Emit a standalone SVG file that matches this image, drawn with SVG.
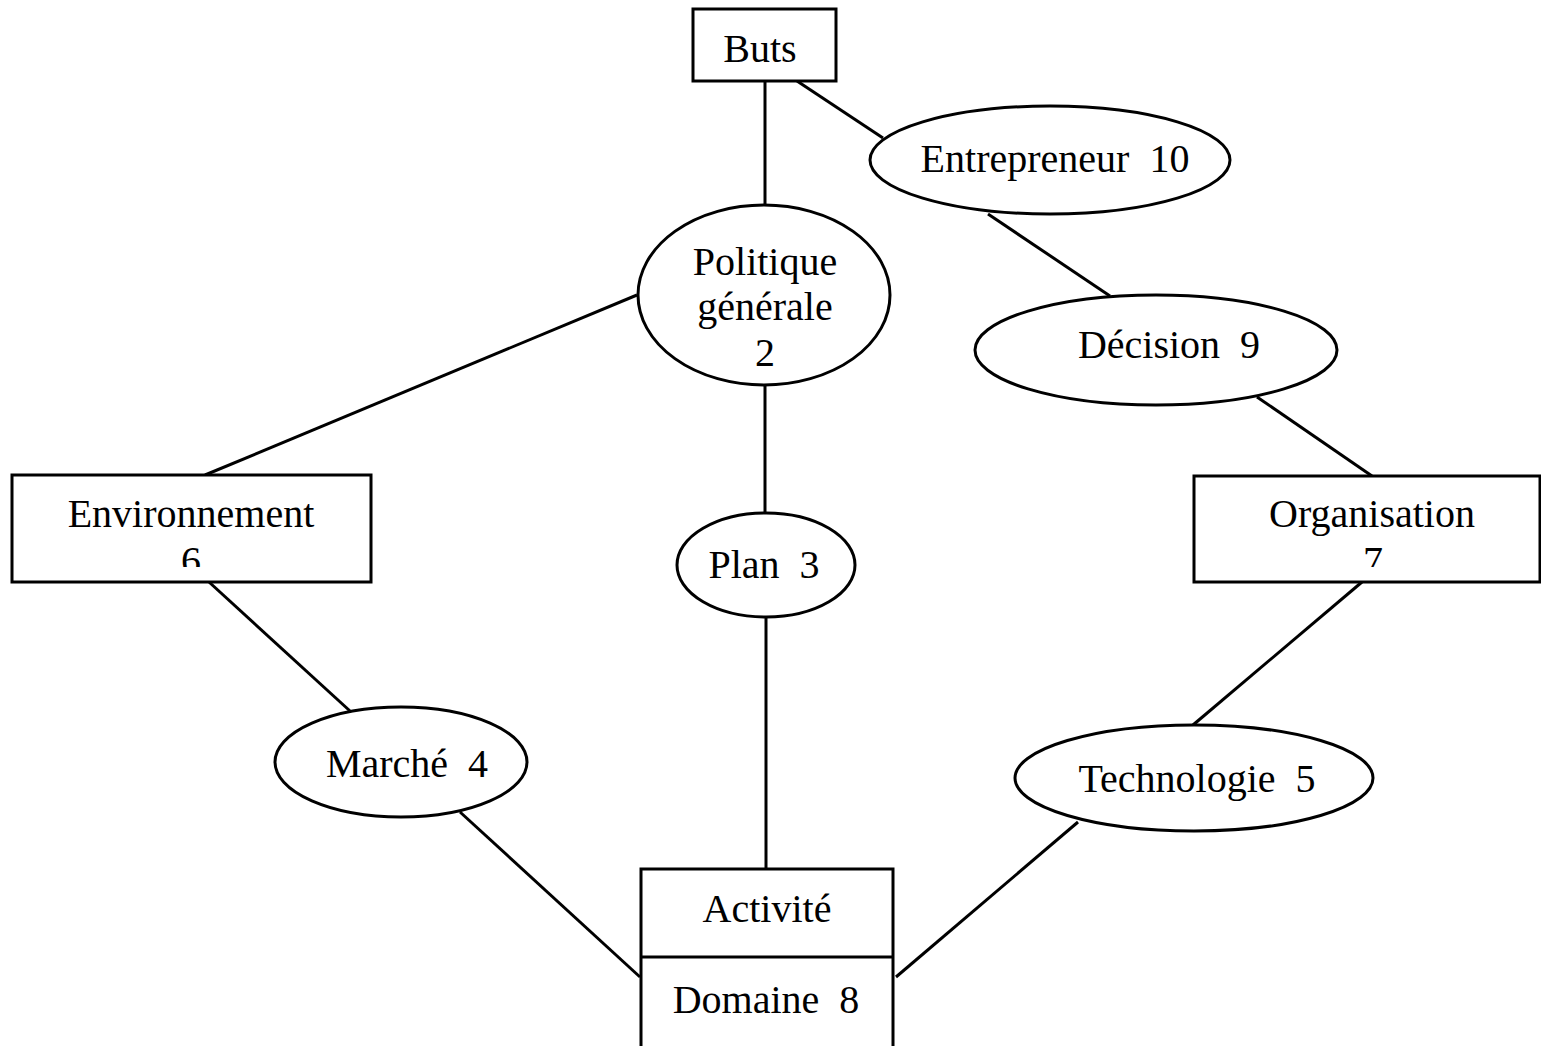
<svg xmlns="http://www.w3.org/2000/svg" width="1541" height="1046" viewBox="0 0 1541 1046">
<style>
.shape{fill:#fff;stroke:#000;stroke-width:3}
.conn line{stroke:#000;stroke-width:3}
text{font-family:"Liberation Serif","Times New Roman",serif;font-size:40px;fill:#000;text-anchor:middle}
</style>
<defs>
<clipPath id="clipEnv"><rect x="12" y="475" width="359" height="92"/></clipPath>
<clipPath id="clipOrg"><rect x="1194" y="476" width="346" height="91"/></clipPath>
</defs>
<rect width="1541" height="1046" fill="#fff"/>
<g id="connectors" class="conn">
<line x1="797" y1="81" x2="883" y2="138"/>
<line x1="765" y1="81" x2="765" y2="205"/>
<line x1="988" y1="214" x2="1110" y2="296"/>
<line x1="1257" y1="397" x2="1372" y2="476"/>
<line x1="1362" y1="582" x2="1193" y2="725"/>
<line x1="1078" y1="822" x2="896" y2="977"/>
<line x1="460" y1="812" x2="640" y2="977"/>
<line x1="209" y1="582" x2="350" y2="711"/>
<line x1="637" y1="295" x2="205" y2="475"/>
<line x1="765" y1="385" x2="765" y2="513"/>
<line x1="766" y1="617" x2="766" y2="869"/>
</g>
<g id="buts">
<rect class="shape" x="693" y="9" width="143" height="72"/>
<text x="760" y="62">Buts</text>
</g>
<g id="entrepreneur">
<ellipse class="shape" cx="1050" cy="160" rx="180" ry="54"/>
<text x="1055" y="172" xml:space="preserve">Entrepreneur  10</text>
</g>
<g id="politique">
<ellipse class="shape" cx="764" cy="295" rx="126" ry="90"/>
<text x="765" y="275">Politique</text>
<text x="765" y="320">générale</text>
<text x="765" y="366">2</text>
</g>
<g id="decision">
<ellipse class="shape" cx="1156" cy="350" rx="181" ry="55"/>
<text x="1169" y="358" xml:space="preserve">Décision  9</text>
</g>
<g id="environnement">
<rect class="shape" x="12" y="475" width="359" height="107"/>
<g clip-path="url(#clipEnv)">
<text x="191" y="527">Environnement</text>
<text x="191" y="574">6</text>
</g>
</g>
<g id="plan">
<ellipse class="shape" cx="766" cy="565" rx="89" ry="52"/>
<text x="764" y="578" xml:space="preserve">Plan  3</text>
</g>
<g id="organisation">
<rect class="shape" x="1194" y="476" width="346" height="106"/>
<g clip-path="url(#clipOrg)">
<text x="1372" y="527">Organisation</text>
<text x="1373" y="574">7</text>
</g>
</g>
<g id="marche">
<ellipse class="shape" cx="401" cy="762" rx="126" ry="55"/>
<text x="407" y="777" xml:space="preserve">Marché  4</text>
</g>
<g id="technologie">
<ellipse class="shape" cx="1194" cy="778" rx="179" ry="53"/>
<text x="1197" y="792" xml:space="preserve">Technologie  5</text>
</g>
<g id="activite">
<rect class="shape" x="641" y="869" width="252" height="190"/>
<line x1="641" y1="957" x2="893" y2="957" stroke="#000" stroke-width="3"/>
<text x="767" y="922">Activité</text>
<text x="766" y="1013" xml:space="preserve">Domaine  8</text>
</g>
</svg>
